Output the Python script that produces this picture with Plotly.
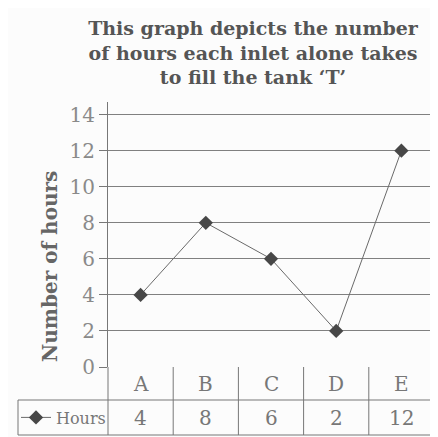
import plotly.graph_objects as go

categories = ["A", "B", "C", "D", "E"]
hours = [4, 8, 6, 2, 12]
y_ticks = [0, 2, 4, 6, 8, 10, 12, 14]
series_name = "Hours"
title_text = "This graph depicts the number<br>of hours each inlet alone takes<br>to fill the tank \u2018T\u2019"
y_title = "Number of hours"

FONT = "DejaVu Serif"
LINE = "#777777"

fig = go.Figure()
fig.add_trace(go.Scatter(
    x=categories, y=hours, mode="lines+markers", name=series_name,
    line=dict(color="#6a6a6a", width=1),
    marker=dict(symbol="diamond", size=11, color="#474747"),
))

# table geometry (paper units relative to plot area: 326 x 265 px)
row1 = -33 / 265
row2 = -68 / 265
hdr_y = -16.5 / 265
val_y = -50.5 / 265
leg_left = -90 / 326

shapes = []
shapes.append(dict(type="line", xref="paper", yref="paper", x0=leg_left, x1=1, y0=row1, y1=row1, line=dict(color=LINE, width=1)))
shapes.append(dict(type="line", xref="paper", yref="paper", x0=leg_left, x1=1, y0=row2, y1=row2, line=dict(color=LINE, width=1)))
shapes.append(dict(type="line", xref="paper", yref="paper", x0=0, x1=0, y0=0, y1=row2, line=dict(color=LINE, width=1)))
shapes.append(dict(type="line", xref="paper", yref="paper", x0=1, x1=1, y0=0, y1=row2, line=dict(color=LINE, width=1)))
shapes.append(dict(type="line", xref="paper", yref="paper", x0=leg_left, x1=leg_left, y0=row1, y1=row2, line=dict(color=LINE, width=1)))
for i in range(1, len(categories)):
    shapes.append(dict(type="line", xref="x", yref="paper", x0=i - 0.5, x1=i - 0.5, y0=0, y1=row2, line=dict(color=LINE, width=1)))

annotations = []
for c, v in zip(categories, hours):
    annotations.append(dict(x=c, y=hdr_y, xref="x", yref="paper", text=c, showarrow=False,
                            font=dict(family=FONT, size=20, color="#777777"), yanchor="middle"))
    annotations.append(dict(x=c, y=val_y, xref="x", yref="paper", text=str(v), showarrow=False,
                            font=dict(family=FONT, size=20, color="#777777"), yanchor="middle"))
annotations.append(dict(x=-58 / 326, y=(367 - 267) / 265, xref="paper", yref="paper", text=y_title,
                        showarrow=False, textangle=-90, xanchor="center", yanchor="middle",
                        font=dict(family=FONT, size=20, color="#666666", weight="bold")))

fig.update_layout(
    width=430, height=429,
    margin=dict(l=100, r=4, t=94, b=70, autoexpand=False),
    paper_bgcolor="#fcfcfc", plot_bgcolor="#fcfcfc",
    title=dict(text=title_text, x=245 / 430, xanchor="center", y=1 - 27 / 429, yanchor="middle",
               font=dict(family=FONT, size=19, color="#555555", weight="bold")),
    showlegend=True,
    legend=dict(x=-92 / 326, y=val_y, xanchor="left", yanchor="middle", bgcolor="rgba(0,0,0,0)",
                font=dict(family=FONT, size=16, color="#777777")),
    shapes=shapes,
    annotations=annotations,
    xaxis=dict(range=[-0.5, len(categories) - 0.5], showticklabels=False, showgrid=False,
               zeroline=False, showline=False, ticks=""),
    yaxis=dict(range=[0, 14.7], tickvals=y_ticks, showgrid=True, gridcolor="#808080", gridwidth=1,
               zeroline=False, showline=True, linecolor=LINE, linewidth=1,
               ticks="outside", ticklen=8, tickcolor=LINE,
               tickfont=dict(family=FONT, size=20, color="#8a8a8a")),
)

fig.write_html("out.html")
